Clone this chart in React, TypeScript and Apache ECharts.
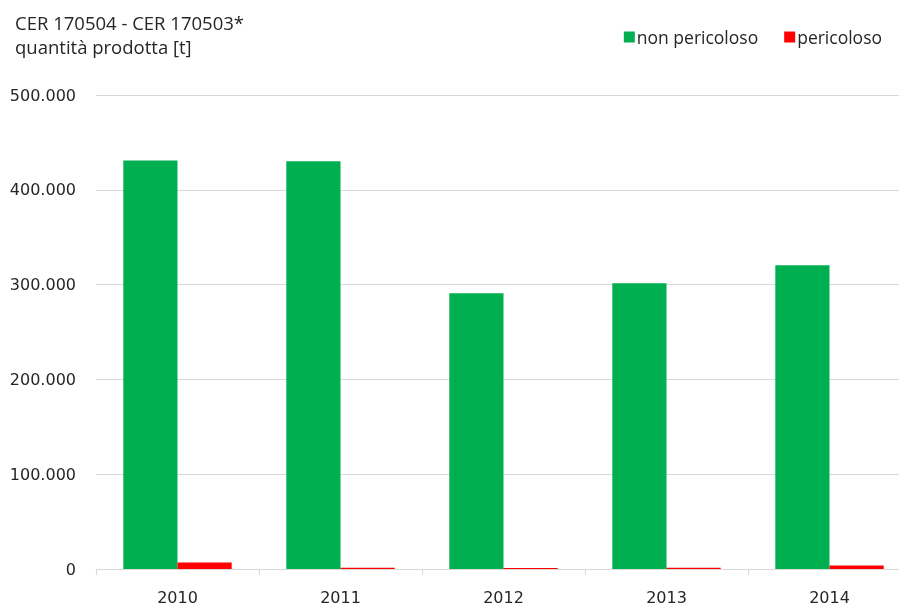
import React, { useEffect, useRef } from "react";
import * as echarts from "echarts";

const years = ["2010", "2011", "2012", "2013", "2014"];
const nonPericoloso = [431000, 430000, 291000, 301500, 320500];
const pericoloso = [6800, 1200, 1000, 1200, 3800];
const yTicks = { min: 0, max: 500000, interval: 100000 };

const fmt = (v: number) =>
  String(Math.round(v)).replace(/\B(?=(\d{3})+(?!\d))/g, ".");

export default function App() {
  const ref = useRef<HTMLDivElement>(null);
  useEffect(() => {
    document.body.style.margin = "0";
    document.body.style.overflow = "hidden";
    if (!ref.current) return;
    const chart = echarts.init(ref.current, undefined, { renderer: "svg" });
    const font = "'Open Sans', 'Noto Sans', sans-serif";
    const axisFont = "'DejaVu Sans', sans-serif";
    chart.setOption({
      animation: false,
      textStyle: { fontFamily: font },
      title: {
        text: "CER 170504 - CER 170503*\nquantità prodotta [t]",
        left: 10,
        top: 5,
        textStyle: {
          fontFamily: font,
          fontSize: 18.5,
          fontWeight: "normal",
          color: "#262626",
          lineHeight: 24,
        },
      },
      legend: {
        right: 12,
        top: 23,
        icon: "rect",
        itemWidth: 11,
        itemHeight: 11,
        itemGap: 26,
        textStyle: { fontFamily: font, fontSize: 17.5, color: "#262626", padding: [0, 0, 0, -3] },
        data: ["non pericoloso", "pericoloso"],
      },
      grid: { left: 96, top: 95, bottom: 36, width: 815, outerBoundsMode: "none", containLabel: false },
      xAxis: {
        type: "category",
        data: years,
        axisLine: { lineStyle: { color: "#d9d9d9", width: 1 } },
        axisTick: { show: true, length: 6, lineStyle: { color: "#d9d9d9" } },
        axisLabel: { fontFamily: axisFont, fontSize: 16, color: "#262626", margin: 20 },
      },
      yAxis: {
        type: "value",
        min: yTicks.min,
        max: yTicks.max,
        interval: yTicks.interval,
        axisLine: { show: false },
        axisTick: { show: false },
        splitLine: { lineStyle: { color: "#d9d9d9", width: 1 } },
        axisLabel: {
          fontFamily: axisFont,
          fontSize: 16,
          color: "#262626",
          margin: 20,
          formatter: (v: number) => fmt(v),
        },
      },
      series: [
        {
          name: "non pericoloso",
          type: "bar",
          data: nonPericoloso,
          itemStyle: { color: "#00b050" },
          barGap: "0%",
          barCategoryGap: "33.5%",
        },
        {
          name: "pericoloso",
          type: "bar",
          data: pericoloso,
          itemStyle: { color: "#ff0000" },
          barGap: "0%",
          barCategoryGap: "33.5%",
        },
      ],
    });
    return () => chart.dispose();
  }, []);
  return (
    <div
      ref={ref}
      style={{ position: "fixed", left: 0, top: 0, width: 899, height: 605 }}
    />
  );
}
